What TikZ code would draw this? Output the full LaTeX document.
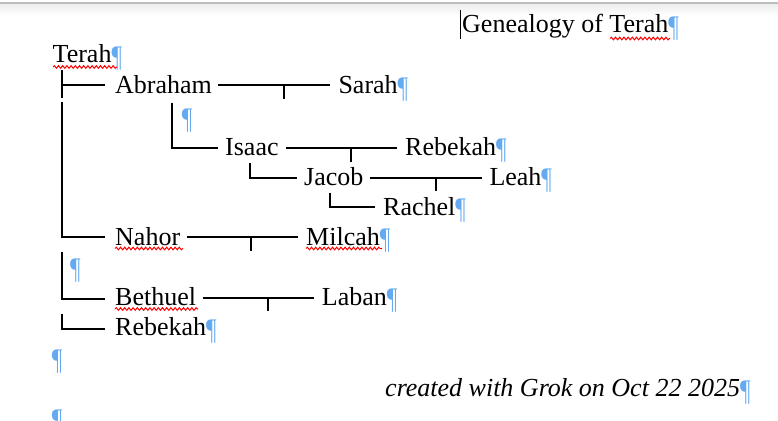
\documentclass[tikz,border=0pt]{standalone}
\usepackage{fontspec}
\setmainfont{Liberation Serif}
\usetikzlibrary{decorations.pathmorphing}
\definecolor{pilblue}{RGB}{100,170,240}
\definecolor{rulegray}{RGB}{190,190,190}
\newcommand\wpil{{\color{pilblue}\raisebox{-3.5pt}{\scalebox{0.9}[1.15]{¶}}}}
\begin{document}
\begin{tikzpicture}[x=1pt,y=-1pt,
  person/.style={anchor=base west,inner sep=0pt,font=\fontsize{26}{30}\selectfont},
  tree/.style={line width=2pt,line join=miter},
  spell/.style={red,line width=1pt,decorate,decoration={snake,amplitude=1.3pt,segment length=4.2pt}}]
\useasboundingbox (0,0) rectangle (778,420);
\clip (0,0) rectangle (778,420);
% window edge
\shade[top color=gray!14,bottom color=white] (0,4) rectangle (778,16);
\draw[rulegray,line width=2pt] (0,3) -- (778,3);

% texts
\node[person] (title) at (462,33) {Genealogy of Terah\wpil};
\node[person] (terah) at (52.5,63) {Terah\wpil};
\node[person] (abraham) at (115,93) {Abraham};
\node[person] (sarah) at (338.3,93.5) {Sarah\wpil};
\node[person] (p1) at (181.7,124.5) {\wpil};
\node[person] (isaac) at (225,155) {Isaac};
\node[person] (rebekahA) at (405,155) {Rebekah\wpil};
\node[person] (jacob) at (304,185) {Jacob};
\node[person] (leah) at (489.3,185) {Leah\wpil};
\node[person] (rachel) at (383,215) {Rachel\wpil};
\node[person] (nahor) at (115,245) {Nahor};
\node[person] (milcah) at (306,245) {Milcah\wpil};
\node[person] (p2) at (70,275) {\wpil};
\node[person] (bethuel) at (115,305) {Bethuel};
\node[person] (laban) at (321.7,305) {Laban\wpil};
\node[person] (rebekahB) at (115,335.5) {Rebekah\wpil};
\node[person] (p3) at (51.7,366) {\wpil};
\node[person] (credit) at (385,396.5) {\itshape created with Grok on Oct 22 2025\upshape\wpil};
\node[person] (p4) at (51.7,426) {\wpil};

% cursor
\coordinate (curT) at (460.7,10);
\coordinate (curB) at (460.7,39.3);
\draw[line width=1.3pt] (curT) -- (curB);

% tree coordinates
\coordinate (trA) at (61.7,70);
\coordinate (trB) at (61.7,98.3);
\coordinate (trMid) at (61.7,85);
\coordinate (abrIn) at (105,85);
\coordinate (trC) at (61.7,101.7);
\coordinate (nahIn) at (105,237);
\coordinate (trD) at (61.7,252.3);
\coordinate (betIn) at (105,299);
\coordinate (trE) at (61.7,314.3);
\coordinate (rebIn) at (105,329.3);
\coordinate (abrDown) at (171.7,102.7);
\coordinate (isaIn) at (218,148.3);
\coordinate (isaDown) at (250,163.3);
\coordinate (jacIn) at (296.7,178.3);
\coordinate (jacDown) at (330,192.7);
\coordinate (racIn) at (375,206.7);

\draw[tree] (trA) -- (trB);
\draw[tree] (trMid) -- (abrIn);
\draw[tree] (trC) |- (nahIn);
\draw[tree] (trD) |- (betIn);
\draw[tree] (trE) |- (rebIn);
\draw[tree] (abrDown) |- (isaIn);
\draw[tree] (isaDown) |- (jacIn);
\draw[tree] (jacDown) |- (racIn);

% marriage lines
\coordinate (mAL) at (218.3,85);   \coordinate (mAR) at (330,85);
\coordinate (mAt) at (284,85);     \coordinate (mAb) at (284,99.3);
\coordinate (mIL) at (286,148.3);  \coordinate (mIR) at (396.7,148.3);
\coordinate (mIt) at (350.7,148.3);\coordinate (mIb) at (350.7,161.7);
\coordinate (mJL) at (370,178);    \coordinate (mJR) at (481.7,178);
\coordinate (mJt) at (435.7,178);  \coordinate (mJb) at (435.7,191);
\coordinate (mNL) at (186.7,237);  \coordinate (mNR) at (297.5,237);
\coordinate (mNt) at (251,237);    \coordinate (mNb) at (251,250.7);
\coordinate (mBL) at (202.7,298.3);\coordinate (mBR) at (314,298.3);
\coordinate (mBt) at (268.3,298.3);\coordinate (mBb) at (268.3,310.7);
\foreach \m in {A,I,J,N,B}{
  \draw[tree] (m\m L) -- (m\m R);
  \draw[tree] (m\m t) -- (m\m b);
}

% spelling marks
\coordinate (s1a) at (53,67);     \coordinate (s1b) at (117,67);
\coordinate (s2a) at (610,38.5);  \coordinate (s2b) at (670,38.5);
\coordinate (s3a) at (115,248.5); \coordinate (s3b) at (183,248.5);
\coordinate (s4a) at (306,248.5); \coordinate (s4b) at (382,248.5);
\coordinate (s5a) at (115,309);   \coordinate (s5b) at (198,309);
\foreach \s in {1,...,5}{ \draw[spell] (s\s a) -- (s\s b); }
\end{tikzpicture}
\end{document}
